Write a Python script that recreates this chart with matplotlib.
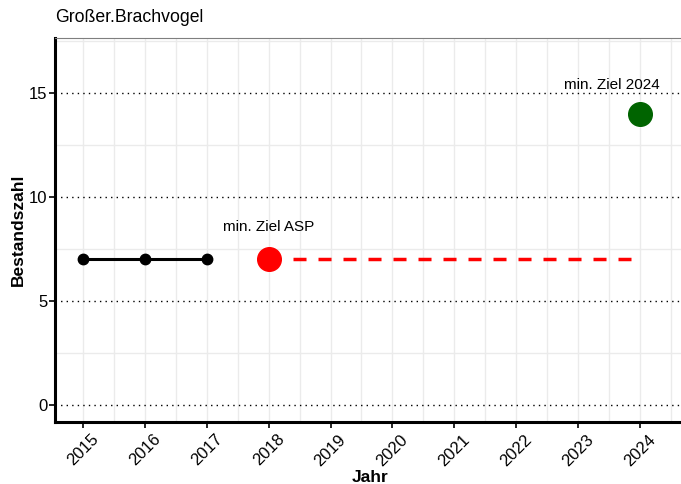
import matplotlib.pyplot as plt
from matplotlib.ticker import MultipleLocator

plt.rcParams['font.family'] = ['Liberation Sans', 'DejaVu Sans']

# Daten
jahre = [2015, 2016, 2017]
bestand = [7, 7, 7]
ziel_asp_jahr = 2018
ziel_asp = 7
ziel_linie_jahre = [2018.39, 2023.86]
ziel_linie_wert = [7, 7]
ziel_2024_jahr = 2024
ziel_2024 = 14
x_ticks = list(range(2015, 2025))

fig = plt.figure(figsize=(6.81, 4.84), dpi=100)
ax = fig.add_axes([55 / 681, 1 - 422 / 484, 1 - 55 / 681, (422 - 38) / 484])

ax.set_xlim(2014.55, 2024.66)
ax.set_ylim(-0.82, 17.64)

# Gitter
ax.xaxis.set_major_locator(MultipleLocator(1))
ax.xaxis.set_minor_locator(MultipleLocator(0.5))
ax.yaxis.set_major_locator(MultipleLocator(5))
ax.yaxis.set_minor_locator(MultipleLocator(2.5))
ax.grid(axis='x', which='both', color='#ebebeb', lw=1)
ax.grid(axis='y', which='minor', color='#ebebeb', lw=1)
ax.grid(axis='y', which='major', color='black', lw=1, ls=(0, (1, 3)))
ax.set_axisbelow(True)

ax.plot(jahre, bestand, color='black', lw=2.2, marker='o', ms=7.5, zorder=3)
ax.plot(ziel_asp_jahr, ziel_asp, 'o', color='red', ms=17, zorder=3)
ax.plot(ziel_linie_jahre, ziel_linie_wert, color='red', lw=2.5,
        ls=(0, (3.75, 3.45)), solid_capstyle='butt', zorder=3)
ax.plot(ziel_2024_jahr, ziel_2024, 'o', color='#006400', ms=17, zorder=3)

ax.text(2018, 8.2, "min. Ziel ASP", ha='center', va='bottom', fontsize=11)
ax.text(2023.55, 15.05, "min. Ziel 2024", ha='center', va='bottom', fontsize=11)

ax.set_xticks(x_ticks)
ax.set_xticklabels([str(j) for j in x_ticks], rotation=45, ha='center', va='top', fontsize=12)
ax.tick_params(axis='both', which='major', length=4, width=1.2, colors='black')
ax.tick_params(axis='y', labelsize=12, pad=1.5)
ax.tick_params(axis='both', which='minor', length=0)
ax.tick_params(axis='x', pad=3)

for s in ['left', 'bottom']:
    ax.spines[s].set_linewidth(2.2)
    ax.spines[s].set_color('black')
ax.spines['top'].set_color('#7f7f7f')
ax.spines['top'].set_linewidth(0.8)
ax.spines['right'].set_visible(False)

fig.text(370 / 681, 1 - 477 / 484, "Jahr", ha='center', va='center', fontweight='bold', fontsize=12.5)
fig.text(18 / 681, 1 - 230 / 484, "Bestandszahl", ha='center', va='center', rotation=90,
         fontweight='bold', fontsize=12.5)
fig.text(55 / 681, 1 - 18 / 484, "Großer.Brachvogel", ha='left', va='center', fontsize=12.7)

fig.savefig("out.png", dpi=100)
